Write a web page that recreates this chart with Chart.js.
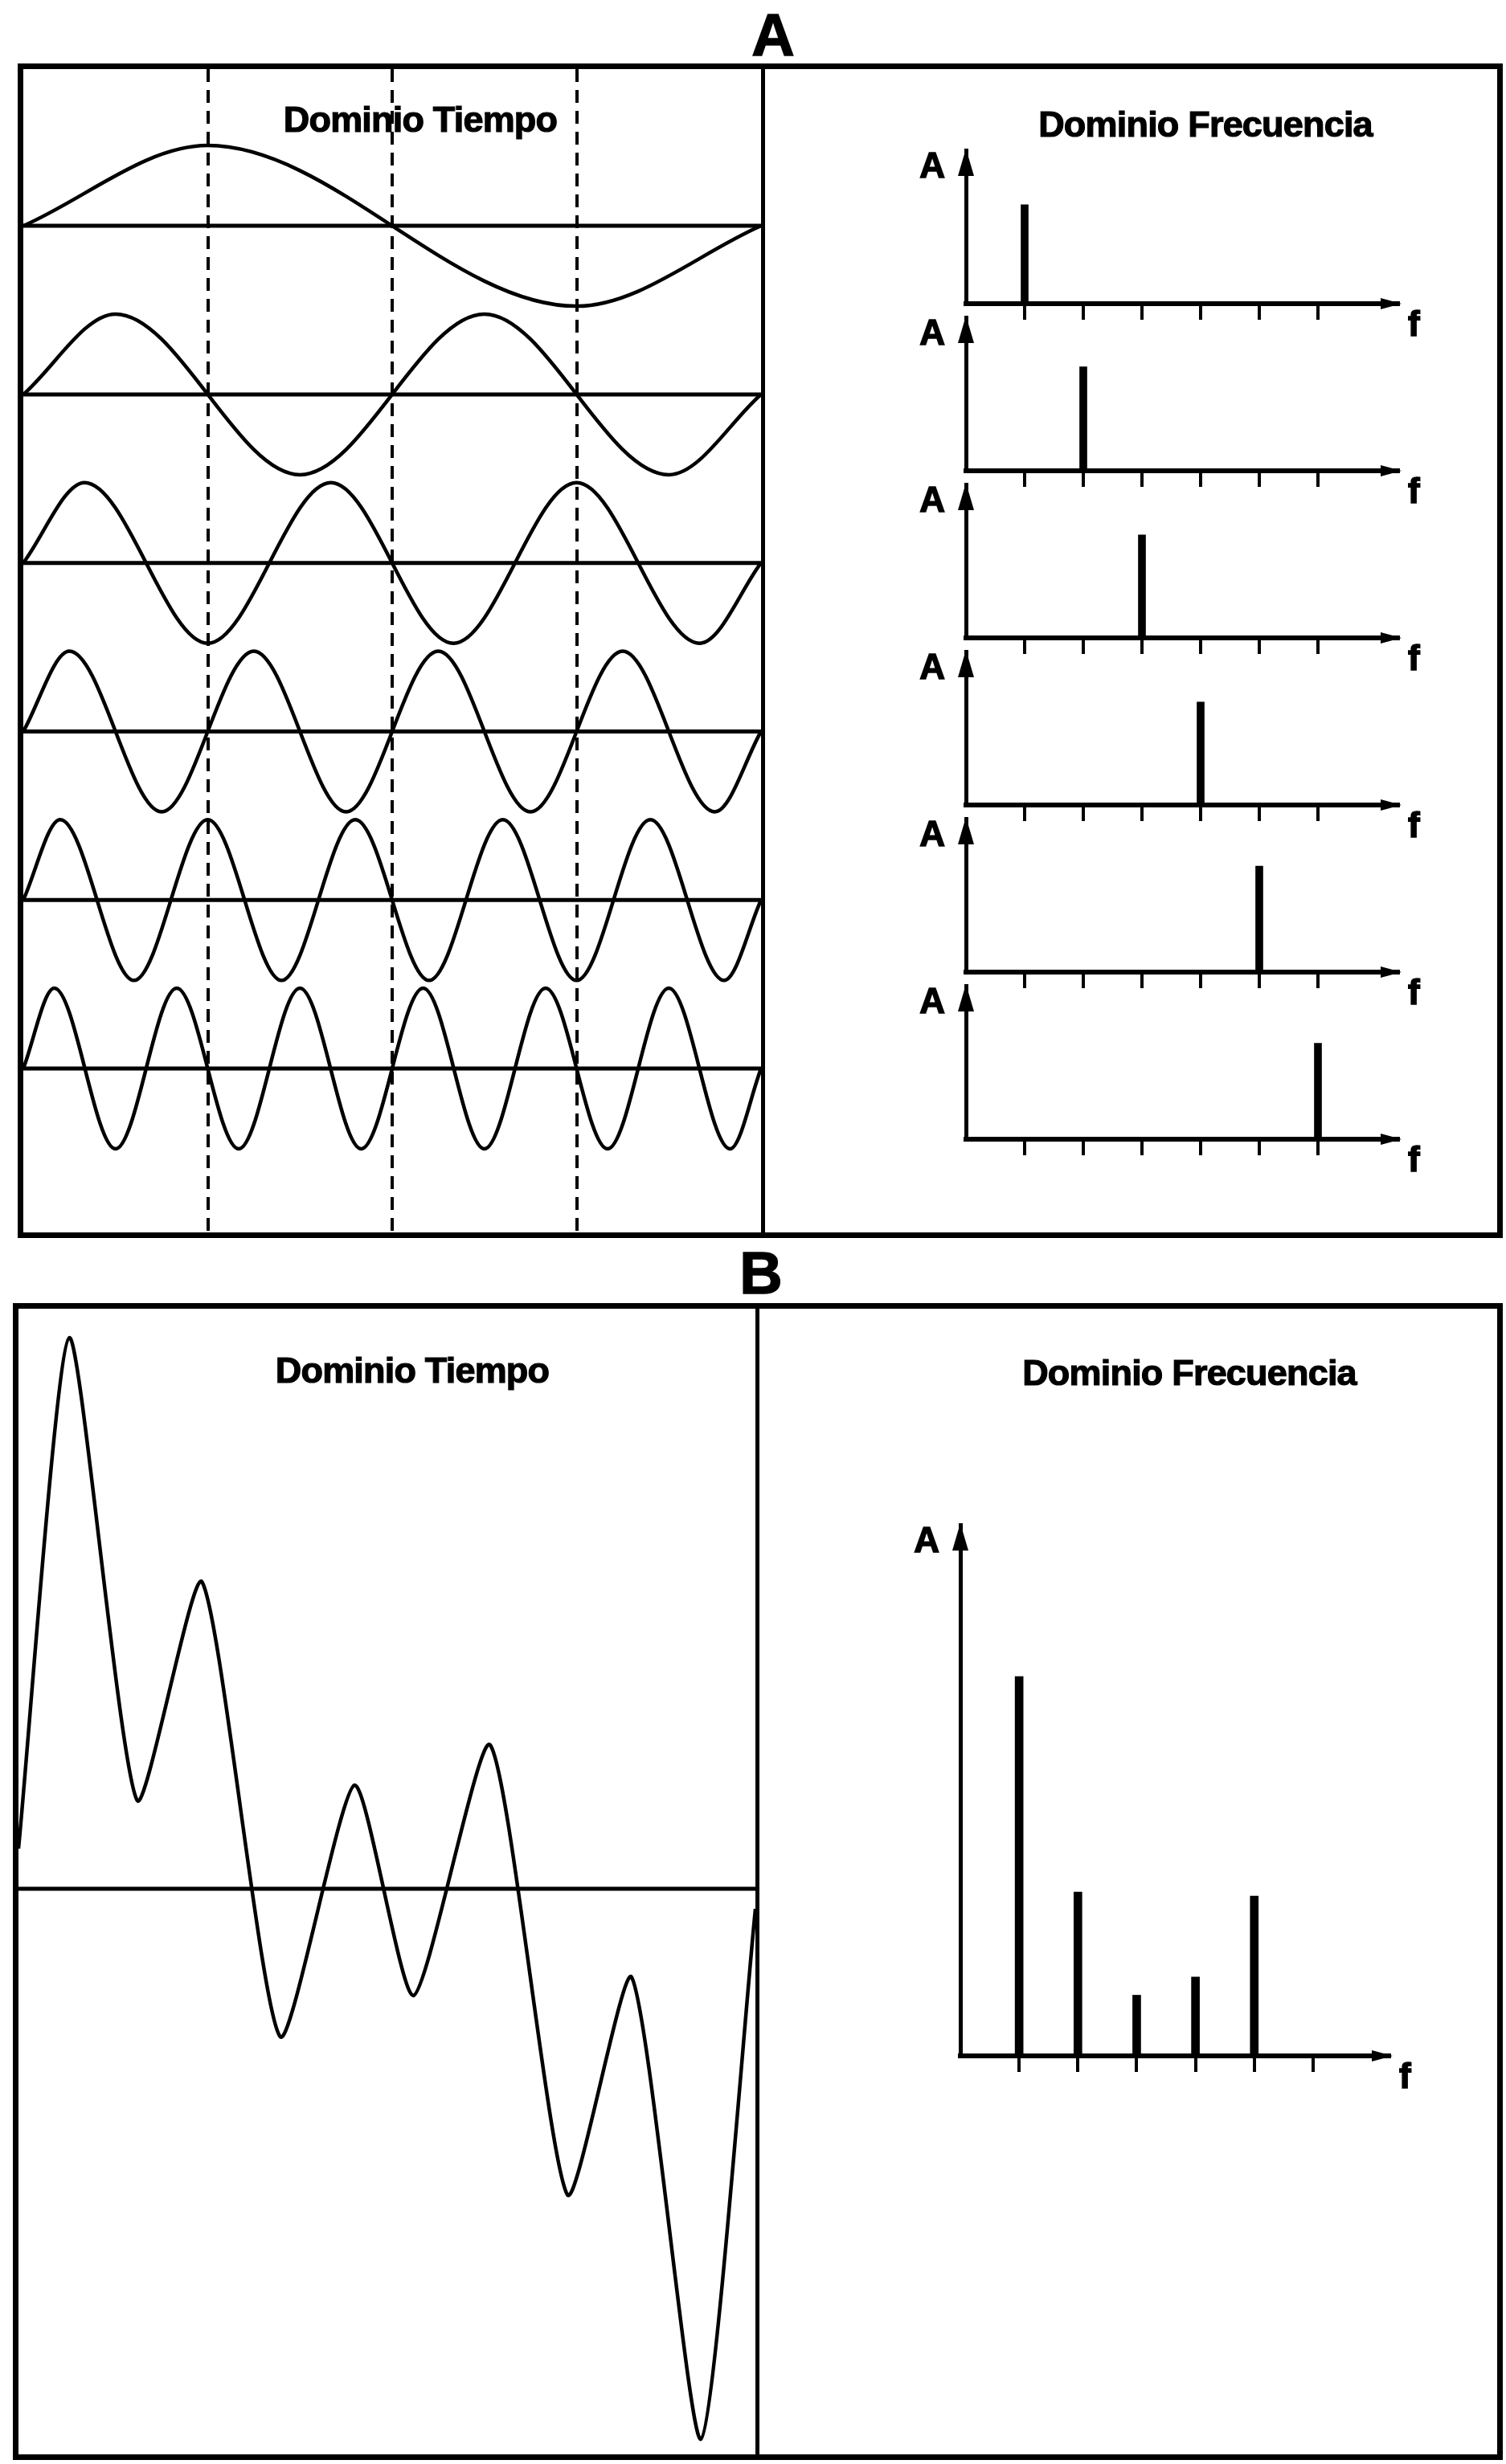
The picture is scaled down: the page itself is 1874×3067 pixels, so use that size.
<!DOCTYPE html>
<html lang="es">
<head>
<meta charset="utf-8">
<title>Dominio Tiempo y Dominio Frecuencia</title>
<script src="https://cdn.jsdelivr.net/npm/chart.js@4.4.1/dist/chart.umd.min.js"></script>
<style>
  html, body { margin: 0; padding: 0; background: #fff; }
  body {
    position: relative; width: 1874px; height: 3067px; overflow: hidden;
    font-family: "Liberation Sans", Arial, sans-serif; font-weight: bold; color: #000;
  }
  canvas { position: absolute; }
  .panel { position: absolute; border: 7px solid #000; box-sizing: border-box; }
  .divider { position: absolute; width: 5px; background: #000; }
  .label { position: absolute; white-space: nowrap; line-height: 1; transform: translateX(-50%); }
  .heading { font-size: 74px; -webkit-text-stroke: 1.5px #000; }
  .sub { font-size: 45px; letter-spacing: -0.8px; -webkit-text-stroke: 1.2px #000; }
</style>
</head>
<body>
<canvas id="timeA" width="918" height="1448" style="left:29px;top:86px"></canvas>
<canvas id="timeB" width="917" height="1426" style="left:23px;top:1629px"></canvas>
<canvas id="specB" width="644" height="729" style="left:1130px;top:1890px"></canvas>

<div class="panel" style="left:22px;top:79px;width:1848px;height:1462px"></div>
<div class="divider" style="left:947px;top:79px;height:1462px"></div>
<div class="panel" style="left:16px;top:1622px;width:1854px;height:1440px"></div>
<div class="divider" style="left:940px;top:1622px;height:1440px"></div>

<div class="label heading" style="left:962px;top:7px">A</div>
<div class="label heading" style="left:947px;top:1548px">B</div>
<div class="label sub" style="left:523px;top:126px">Dominio Tiempo</div>
<div class="label sub" style="left:1500px;top:132px">Dominio Frecuencia</div>
<div class="label sub" style="left:513px;top:1683px">Dominio Tiempo</div>
<div class="label sub" style="left:1480px;top:1686px">Dominio Frecuencia</div>

<script>
"use strict";

// --- panel A, time domain: six sine waves (1..6 cycles), read at the ends and at each peak/trough
const wave1T = [0, 0.25, 0.75, 1];
const wave1V = [0, 1, -1, 0];
const wave2T = [0, 0.125, 0.375, 0.625, 0.875, 1];
const wave2V = [0, 1, -1, 1, -1, 0];
const wave3T = [0, 0.083, 0.25, 0.417, 0.583, 0.75, 0.917, 1];
const wave3V = [0, 1, -1, 1, -1, 1, -1, 0];
const wave4T = [0, 0.0625, 0.1875, 0.3125, 0.4375, 0.5625, 0.6875, 0.8125, 0.9375, 1];
const wave4V = [0, 1, -1, 1, -1, 1, -1, 1, -1, 0];
const wave5T = [0, 0.05, 0.15, 0.25, 0.35, 0.45, 0.55, 0.65, 0.75, 0.85, 0.95, 1];
const wave5V = [0, 1, -1, 1, -1, 1, -1, 1, -1, 1, -1, 0];
const wave6T = [0, 0.042, 0.125, 0.208, 0.292, 0.375, 0.458, 0.542, 0.625, 0.708, 0.792, 0.875, 0.958, 1];
const wave6V = [0, 1, -1, 1, -1, 1, -1, 1, -1, 1, -1, 1, -1, 0];
const dashTimes = [0.25, 0.5, 0.75];

// --- panel A, frequency domain: one line per row
const freqTicks = [1, 2, 3, 4, 5, 6];
const spectraA = [
  [0.98, 0, 0, 0, 0, 0],
  [0, 1.03, 0, 0, 0, 0],
  [0, 0, 1.02, 0, 0, 0],
  [0, 0, 0, 1.02, 0, 0],
  [0, 0, 0, 0, 1.05, 0],
  [0, 0, 0, 0, 0, 0.95]
];

// --- panel B: composite signal (extrema) and its spectrum
const timeB = [0, 0.069, 0.161, 0.249, 0.355, 0.456, 0.536, 0.640, 0.745, 0.832, 0.926, 1];
const signalB = [0.5, 6.86, 1.10, 3.82, -1.84, 1.29, -1.33, 1.79, -3.81, -1.10, -6.85, -0.25];
const spectrumB = [3.75, 1.62, 0.60, 0.78, 1.58, 0];

const ink = "#000";
const hidden = {
  display: true,
  ticks: { display: false },
  grid: { display: false, drawTicks: false },
  border: { display: false }
};

function points(ts, vs) {
  return ts.map((t, i) => ({ x: t, y: vs[i] }));
}

// ---------- A: time domain ----------
const wavesA = [
  points(wave1T, wave1V), points(wave2T, wave2V), points(wave3T, wave3V),
  points(wave4T, wave4V), points(wave5T, wave5V), points(wave6T, wave6V)
];

const scalesA = {
  x: {
    type: "linear", min: 0, max: 1, display: true,
    afterBuildTicks: (s) => { s.ticks = dashTimes.map((v) => ({ value: v })); },
    ticks: { display: false },
    grid: { display: true, drawTicks: false, color: ink, lineWidth: 4 },
    border: { display: false, dash: [16, 10] }
  },
  yTop: { ...hidden, position: "right", stack: "w", stackWeight: 0.43, weight: 0 }
};
const datasetsA = [];
wavesA.forEach((wave, i) => {
  const id = "y" + (i + 1);
  scalesA[id] = { ...hidden, position: "right", stack: "w", stackWeight: 1, weight: i + 1,
    min: -1.049, max: 1.049 };
  datasetsA.push({
    data: [{ x: 0, y: 0 }, { x: 1, y: 0 }], yAxisID: id,
    borderColor: ink, borderWidth: 5, pointRadius: 0
  });
  datasetsA.push({
    data: wave, yAxisID: id, borderColor: ink, borderWidth: 4.5,
    pointRadius: 0, cubicInterpolationMode: "monotone"
  });
});
scalesA.yBot = { ...hidden, position: "right", stack: "w", stackWeight: 0.472, weight: 9 };

new Chart(document.getElementById("timeA"), {
  type: "line",
  data: { datasets: datasetsA },
  options: {
    responsive: false, animation: false, events: [],
    layout: { padding: 0 },
    plugins: { legend: { display: false }, tooltip: { enabled: false } },
    scales: scalesA
  }
});

// ---------- B: time domain ----------
new Chart(document.getElementById("timeB"), {
  type: "line",
  data: {
    datasets: [
      { data: [{ x: 0, y: 0 }, { x: 1, y: 0 }], borderColor: ink, borderWidth: 5, pointRadius: 0 },
      { data: points(timeB, signalB), borderColor: ink, borderWidth: 4.5, pointRadius: 0, tension: 0.2 }
    ]
  },
  options: {
    responsive: false, animation: false, events: [],
    layout: { padding: 0 },
    plugins: { legend: { display: false }, tooltip: { enabled: false } },
    scales: {
      x: { type: "linear", min: 0, max: 1, display: false },
      y: { min: -7.04, max: 7.22, display: false }
    }
  }
});

// ---------- spectra ----------
const axisArrows = {
  id: "axisArrows",
  afterDraw(chart) {
    const { ctx, chartArea: a } = chart;
    ctx.save();
    ctx.fillStyle = ink;
    ctx.beginPath();
    ctx.moveTo(a.left, a.top - 2);
    ctx.lineTo(a.left - 10, a.top + 32);
    ctx.lineTo(a.left + 10, a.top + 32);
    ctx.closePath();
    ctx.fill();
    ctx.beginPath();
    ctx.moveTo(a.right + 4, a.bottom);
    ctx.lineTo(a.right - 22, a.bottom - 7);
    ctx.lineTo(a.right - 22, a.bottom + 7);
    ctx.closePath();
    ctx.fill();
    ctx.font = 'bold 44px "Liberation Sans", Arial, sans-serif';
    ctx.textBaseline = "alphabetic";
    ctx.lineWidth = 1.5;
    ctx.strokeStyle = ink;
    ctx.textAlign = "right";
    ctx.fillText("A", a.left - 26, a.top + 34);
    ctx.strokeText("A", a.left - 26, a.top + 34);
    ctx.textAlign = "left";
    ctx.fillText("f", a.right + 12, a.bottom + 40);
    ctx.strokeText("f", a.right + 12, a.bottom + 40);
    ctx.restore();
  }
};

function spectrumChart(canvas, amps, ampMax, freqMax, barWidth) {
  return new Chart(canvas, {
    type: "bar",
    data: {
      datasets: [{
        data: freqTicks.map((f, i) => ({ x: f, y: amps[i] })),
        backgroundColor: ink, barThickness: barWidth, borderWidth: 0
      }]
    },
    options: {
      responsive: false, animation: false, events: [],
      layout: { padding: { left: 65, top: 8, right: 45, bottom: 40 } },
      plugins: { legend: { display: false }, tooltip: { enabled: false } },
      scales: {
        x: {
          type: "linear", min: 0, max: freqMax, offset: false,
          afterBuildTicks: (s) => { s.ticks = freqTicks.map((v) => ({ value: v })); },
          ticks: { display: false },
          grid: { display: true, offset: false, drawOnChartArea: false, drawTicks: true,
            tickLength: 20, lineWidth: 4, color: ink },
          border: { display: true, width: 6, color: ink }
        },
        y: {
          min: 0, max: ampMax,
          ticks: { display: false },
          grid: { display: true, drawOnChartArea: false, drawTicks: false },
          border: { display: true, width: 5, color: ink }
        }
      }
    },
    plugins: [axisArrows]
  });
}

const rowBaselines = [378, 586, 794, 1002, 1210, 1418];
spectraA.forEach((amps, i) => {
  const c = document.createElement("canvas");
  c.width = 648;
  c.height = 259;
  c.style.left = "1137px";
  c.style.top = (rowBaselines[i] - 191 - 8) + "px";
  document.body.appendChild(c);
  spectrumChart(c, amps, 1.52, 7.37, 9);
});

spectrumChart(document.getElementById("specB"), spectrumB, 5.25, 7.3, 10);
</script>
</body>
</html>
